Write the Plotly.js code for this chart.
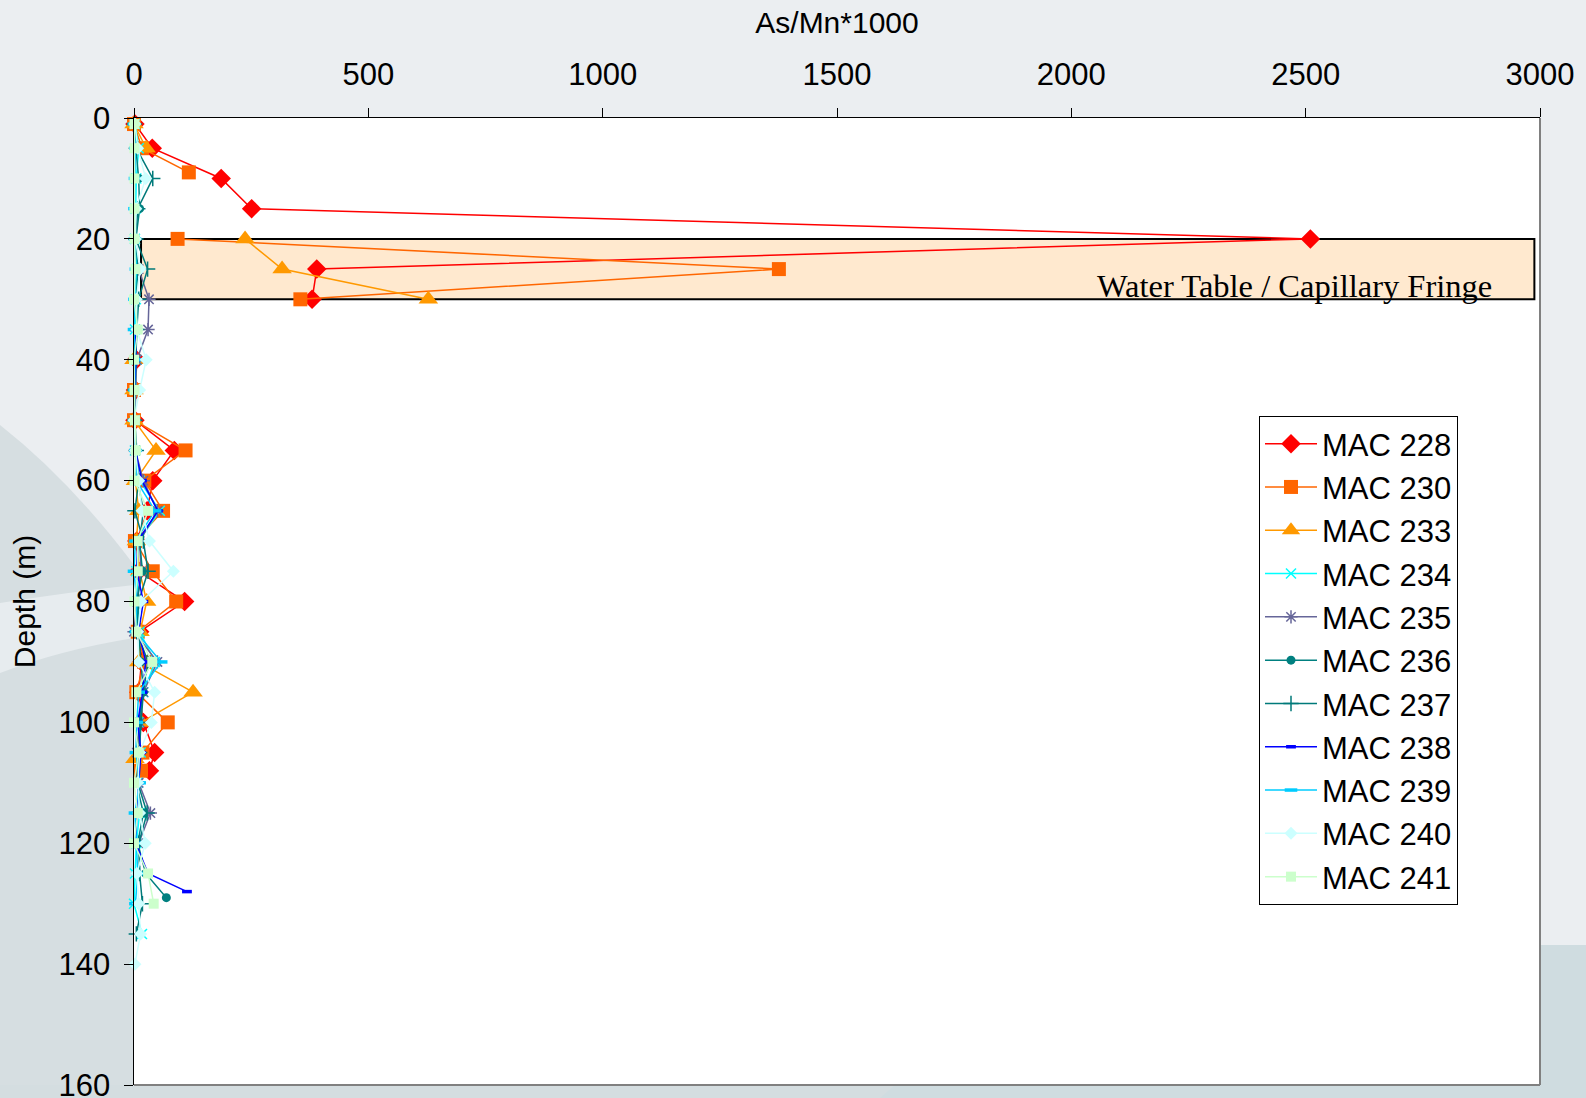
<!DOCTYPE html>
<html>
<head>
<meta charset="utf-8">
<script src="https://cdn.plot.ly/plotly-3.0.1.min.js"></script>
<style>
html,body{margin:0;padding:0;background:#EBEEF1;}
#chart{width:1586px;height:1098px;}
</style>
</head>
<body>
<div id="chart"></div>
<script>
// ---- Data (As/Mn*1000 vs depth in m); null = gap in the line ----
const names = ["MAC 228","MAC 230","MAC 233","MAC 234","MAC 235","MAC 236","MAC 237","MAC 238","MAC 239","MAC 240","MAC 241"];

const depth228 = [1,5,10,15,20,25,30,null,40,45,50,55,60,65,70,75,80,85,90,95,100,105,108];
const val228   = [2,39,186,251,2510,390,380,null,5,3,2,86,40,28,6,10,108,12,16,10,20,44,33];

const depth230 = [1,5,9,null,20,25,30,null,45,50,55,60,65,70,75,80,85,90,95,100,105,108];
const val230   = [0,17,117,null,93,1376,355,null,0,0,110,22,62,2,40,90,8,22,5,72,18,15];

const depth233 = [1,5,null,20,25,30,null,40,45,50,55,60,65,70,75,80,85,90,95,100,106];
const val233   = [0,26,null,237,316,628,null,0,0,0,47,3,10,5,12,27,13,10,126,15,2];

const depth234 = [1,5,10,15,20,25,30,35,40,45,50,55,60,65,70,75,80,85,90,95,100,105,110,115,120,125,130,135];
const val234   = [2,10,5,3,2,6,4,2,5,3,2,2,12,55,10,5,8,12,45,20,10,14,8,12,5,2,0,17];

const depth235 = [25,30,35,40,45,50,55,60,65,70,75,80,85,90,95,100,105,110,115,120];
const val235   = [10,32,30,6,3,2,3,20,50,12,15,6,0,50,20,12,6,10,35,10];

const depth236 = [1,5,10,15,20,25,30,35,40,45,50,55,60,65,70,75,80,85,90,95,100,105,110,115,120,125,129];
const val236   = [1,4,10,12,4,8,5,6,3,2,2,4,8,20,12,18,6,10,15,20,10,12,5,20,8,25,69];

const depth237 = [1,5,10,15,20,25,30,35,40,45,50,55,60,65,70,75,80,85,90,95,100,105,110,115,120,125,130,135];
const val237   = [1,5,40,8,4,29,10,6,4,2,2,5,10,2,20,30,10,6,30,20,15,12,8,28,10,12,18,5];

const depth238 = [35,40,45,50,55,60,65,70,75,80,85,90,95,100,105,110,115,120,125,128];
const val238   = [2,4,1,2,3,17,51,8,6,20,10,25,18,8,15,10,6,4,30,113];

const depth239 = [1,5,10,15,20,25,30,35,40,45,50,55,60,65,70,75,80,85,90,95,100,105,110,115,120,125,130];
const val239   = [0,3,2,1,2,4,1,0,2,1,0,3,5,45,3,0,6,4,58,10,6,4,12,2,5,8,3];

const depth240 = [1,5,10,15,20,25,30,35,40,45,50,55,60,65,70,75,80,85,90,95,100,105,110,115,120,125,130,135,140];
const val240   = [2,8,25,4,3,13,5,6,26,12,0,3,10,17,33,84,15,8,10,44,37,12,8,12,24,6,10,14,2];

const depth241 = [1,5,10,15,20,25,30,35,40,45,50,55,60,65,70,75,80,85,90,95,100,105,110,115,120,125,130];
const val241   = [1,1,1,1,1,3,0,8,0,1,2,4,1,30,8,8,1,5,39,5,0,10,0,8,0,30,42];

const xTicks = [0,500,1000,1500,2000,2500,3000];
const yTicks = [0,20,40,60,80,100,120,140,160];
const waterTable = {x0: 15, x1: 2988, top: 20, bottom: 30, label: "Water Table / Capillary Fringe"};

// ---- Styles ----
const series = [
  {x: val228, y: depth228, color: "#FF0000", symbol: "diamond", size: 15, lw: 1.5},
  {x: val230, y: depth230, color: "#FF6600", symbol: "square", size: 14, lw: 1.5},
  {x: val233, y: depth233, color: "#FF9900", symbol: "triangle-up", size: 17, lw: 1.5},
  {x: val234, y: depth234, color: "#00FFFF", symbol: "x-thin-open", size: 10, lw: 1.5},
  {x: val235, y: depth235, color: "#666699", symbol: "asterisk-open", size: 11, lw: 1.5},
  {x: val236, y: depth236, color: "#008080", symbol: "circle", size: 9, lw: 1.5},
  {x: val237, y: depth237, color: "#007A7A", symbol: "cross-thin-open", size: 11, lw: 1.5},
  {x: val238, y: depth238, color: "#0000FF", symbol: "line-ew-open", size: 7, lw: 1.5},
  {x: val239, y: depth239, color: "#00CCFF", symbol: "line-ew-open", size: 9, lw: 1.5},
  {x: val240, y: depth240, color: "#CCFFFF", symbol: "diamond", size: 10, lw: 1.5},
  {x: val241, y: depth241, color: "#CCFFCC", symbol: "square", size: 10, lw: 1.5}
];

const traces = series.map((s, i) => {
  const isOpen = /open/.test(s.symbol);
  const mk = {symbol: s.symbol, size: s.size, color: s.color};
  if (isOpen) mk.line = {color: s.color, width: s.symbol.indexOf("line") === 0 ? 3.5 : 1.5};
  else mk.line = {width: 0};
  return {
    type: "scatter", mode: "lines+markers", name: names[i],
    x: s.x, y: s.y, legendgroup: "g" + i,
    line: {color: s.color, width: s.lw},
    marker: mk, cliponaxis: false, connectgaps: false
  };
});

// paper coordinate helpers for background decoration
const L = 134, R = 46, T = 118, B = 13, W = 1586, H = 1098;
const pw = W - L - R, ph = H - T - B;
const px = v => (v - L) / pw;
const py = v => (H - B - v) / ph;

const shapes = [
  // left darker region
  {type: "path", xref: "paper", yref: "paper", layer: "below", line: {width: 0}, fillcolor: "#D6DEE1",
   path: `M ${px(0)},${py(425)} Q ${px(70)},${py(480)} ${px(L)},${py(565)} L ${px(L)},${py(H)} L ${px(0)},${py(H)} Z`},
  // lighter band across lower-left
  {type: "path", xref: "paper", yref: "paper", layer: "below", line: {width: 0}, fillcolor: "#E7ECEF",
   path: `M ${px(0)},${py(603)} Q ${px(70)},${py(592)} ${px(L)},${py(585)} L ${px(L)},${py(638)} Q ${px(60)},${py(650)} ${px(0)},${py(673)} Z`},
  // bottom strip
  {type: "rect", xref: "paper", yref: "paper", layer: "below", line: {width: 0}, fillcolor: "#D4DDE0",
   x0: px(0), x1: px(W), y0: py(H), y1: 0},
  // right lower region
  {type: "rect", xref: "paper", yref: "paper", layer: "below", line: {width: 0}, fillcolor: "#CFDCE0",
   x0: 1, x1: px(W), y0: py(H), y1: py(945)},
  {type: "path", xref: "paper", yref: "paper", layer: "below", line: {width: 0}, fillcolor: "#CFDCE0",
   path: `M ${px(880)},${py(H)} L ${px(895)},0 L ${px(W)},0 L ${px(W)},${py(H)} Z`},
  // water table band
  {type: "rect", xref: "x", yref: "y", layer: "below", fillcolor: "#FFE9CF", line: {color: "#000000", width: 2},
   x0: waterTable.x0, x1: waterTable.x1, y0: waterTable.top, y1: waterTable.bottom},
  // gray frame on right and bottom
  {type: "line", xref: "paper", yref: "paper", x0: 1, x1: 1, y0: 0, y1: 1, line: {color: "#808080", width: 2}},
  {type: "line", xref: "paper", yref: "paper", x0: 0, x1: 1, y0: 0, y1: 0, line: {color: "#808080", width: 2}}
];

const family = "Liberation Sans, Arial, sans-serif";
const titleFont = {family: family, size: 30, color: "#000000"};
const tickFont = {family: family, size: 31, color: "#000000"};

const layout = {
  width: W, height: H,
  margin: {l: L, r: R, t: T, b: B, pad: 0},
  paper_bgcolor: "#EBEEF1",
  plot_bgcolor: "#FFFFFF",
  font: titleFont,
  showlegend: true,
  xaxis: {
    side: "top", range: [0, 3000], tickvals: xTicks, ticktext: xTicks.map(String),
    showgrid: false, zeroline: false, showline: true, linecolor: "#000000", linewidth: 1.5,
    ticks: "outside", ticklen: 9, tickwidth: 1, tickcolor: "#000000",
    ticklabelstandoff: 10, ticklabeloverflow: "allow", tickfont: tickFont, automargin: false,
    title: {text: "As/Mn*1000", font: titleFont, standoff: 14}
  },
  yaxis: {
    range: [160, 0], tickvals: yTicks, ticktext: yTicks.map(String),
    showgrid: false, zeroline: false, showline: true, linecolor: "#000000", linewidth: 1.5,
    ticks: "outside", ticklen: 9, tickwidth: 1, tickcolor: "#000000",
    ticklabelstandoff: 7, ticklabeloverflow: "allow", tickfont: tickFont, automargin: false,
    title: {text: "Depth (m)", font: titleFont, standoff: 14}
  },
  legend: {
    x: px(1259), y: py(416), xanchor: "left", yanchor: "top",
    bgcolor: "#FFFFFF", bordercolor: "#000000", borderwidth: 1,
    font: tickFont, tracegroupgap: 4, traceorder: "normal", itemwidth: 52
  },
  shapes: shapes,
  annotations: [
    {x: 2902, y: 27.8, xref: "x", yref: "y", xanchor: "right", yanchor: "middle",
     text: waterTable.label, showarrow: false,
     font: {family: "Liberation Serif, Times New Roman, serif", size: 32.5, color: "#000000"}}
  ]
};

Plotly.newPlot("chart", traces, layout, {displayModeBar: false, staticPlot: true});
</script>
</body>
</html>
